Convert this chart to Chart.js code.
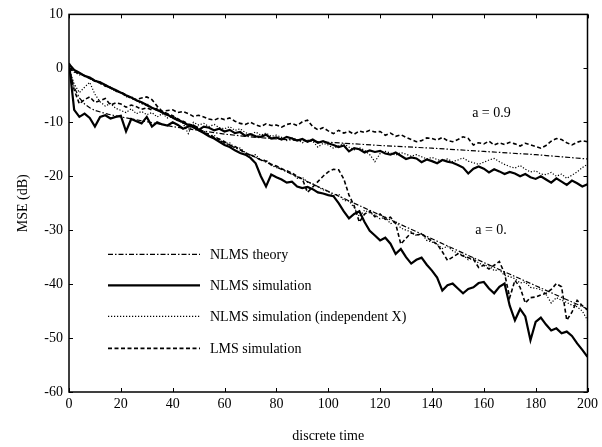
<!DOCTYPE html>
<html><head><meta charset="utf-8">
<script src="https://cdn.jsdelivr.net/npm/chart.js@4.4.1/dist/chart.umd.min.js"></script>
<style>html,body{margin:0;padding:0;background:#fff;}#wrap{width:602px;height:447px;}</style>
</head><body><div id="wrap"><canvas id="c" width="602" height="447"></canvas></div>
<script>
// time grid for simulated curves (every 2 samples)
const times = [];
for (let t = 0; t <= 200; t += 2) times.push(t);

// ---- a = 0.9 ----
const theoryTimes09 = [0, 2, 4, 6, 8, 10, 15, 20, 30, 40, 50, 60, 70, 80, 100, 120, 140, 160, 180, 200];
const theory09 = [0, -3.5, -5.5, -6.6, -7.3, -7.8, -8.5, -9.0, -9.9, -10.8, -11.5, -12.2, -12.7, -13.1, -13.7, -14.3, -14.8, -15.4, -16.0, -16.8];

const nlmsSim09 = [1.0, -7.7, -9.0, -8.4, -9.2, -10.8, -9.0, -8.7, -9.3, -9.0,
 -8.8, -11.7, -9.4, -9.8, -10.2, -9.0, -10.8, -10.0, -10.4, -10.6,
 -10.0, -10.5, -11.2, -10.8, -10.6, -11.4, -10.8, -11.0, -11.5, -11.2,
 -11.7, -11.4, -12.0, -11.8, -12.5, -12.2, -12.6, -12.7, -12.3, -13.0,
 -12.8, -13.2, -12.7, -13.0, -13.4, -13.1, -13.6, -13.2, -13.8, -13.5,
 -13.9, -14.2, -14.6, -14.3, -15.4, -14.8, -15.0, -15.6, -15.2, -15.5,
 -15.3, -15.8, -16.0, -15.6, -16.2, -16.8, -16.5, -16.7, -17.4, -16.9,
 -17.2, -17.6, -17.0, -17.3, -17.5, -17.9, -18.4, -19.5, -18.6, -18.2,
 -18.6, -19.3, -18.7, -19.1, -19.6, -19.2, -19.5, -20.0, -19.6, -20.2,
 -20.5, -20.0, -20.6, -21.2, -20.4, -21.0, -21.6, -20.8, -21.3, -21.9,
 -21.5];

const nlmsIndep09 = [0, -2.9, -4.5, -3.5, -2.6, -4.8, -6.2, -7.0, -6.5, -7.4,
 -7.8, -8.2, -7.5, -8.4, -8.0, -8.6, -8.2, -9.0, -8.4, -9.2,
 -8.8, -9.4, -10.2, -12.1, -10.0, -10.5, -10.2, -10.8, -10.4, -11.0,
 -11.2, -10.8, -11.5, -11.2, -11.9, -12.3, -11.8, -12.4, -12.0, -12.6,
 -12.4, -12.8, -13.4, -12.9, -13.2, -13.8, -13.3, -13.5, -14.6, -13.9,
 -14.2, -14.8, -14.4, -14.0, -14.6, -15.1, -14.7, -15.2, -16.0, -17.3,
 -15.8, -15.4, -15.7, -16.1, -15.6, -15.9, -16.3, -16.0, -16.4, -16.8,
 -16.5, -16.9, -17.2, -16.8, -17.3, -17.0, -16.6, -17.2, -17.5, -17.8,
 -17.4, -17.0, -16.7, -17.3, -17.8, -18.2, -18.5, -18.0, -18.7, -19.2,
 -19.0, -19.6, -19.7, -19.3, -20.0, -19.6, -20.4, -19.8, -19.2, -18.4,
 -17.8];

const lmsSim09 = [0, -4.0, -6.6, -5.8, -5.3, -6.3, -6.0, -5.6, -6.8, -6.4,
 -6.6, -7.2, -6.8, -7.1, -7.6, -7.3, -7.7, -7.4, -8.0, -7.8,
 -7.7, -8.2, -8.0, -8.4, -8.9, -8.7, -9.0, -9.4, -9.6, -9.2,
 -9.5, -9.2, -9.8, -10.2, -10.4, -10.0, -10.5, -10.8, -10.3, -10.6,
 -10.5, -10.9, -10.4, -10.2, -10.6, -9.9, -9.6, -10.8, -11.4, -11.0,
 -11.6, -12.1, -11.5, -12.0, -11.7, -12.2, -11.6, -11.9, -11.5, -11.8,
 -11.7, -12.4, -12.0, -12.6, -12.3, -12.8, -13.2, -13.6, -13.4, -12.9,
 -13.0, -13.3, -12.8, -13.4, -13.6, -13.2, -12.7, -13.0, -14.2, -13.8,
 -14.0, -13.5, -14.2, -13.8, -14.1, -13.7, -14.0, -14.4, -13.9, -14.2,
 -14.5, -14.8, -14.3, -13.5, -13.0, -13.2, -13.8, -14.2, -13.7, -13.4,
 -13.6];

// ---- a = 0 ----
const theoryTimes0 = [0, 20, 40, 60, 80, 100, 120, 140, 160, 180, 200];
const theory0 = [0, -4.6, -9.2, -13.8, -18.3, -22.8, -27.2, -31.6, -36.0, -40.3, -44.6];

const nlmsSim0 = [0.8, -0.3, -0.8, -1.4, -1.7, -2.3, -2.6, -3.1, -3.6, -4.0,
 -4.5, -5.0, -5.4, -5.9, -6.3, -6.8, -7.3, -7.7, -8.2, -8.6,
 -9.1, -9.6, -10.0, -10.5, -10.9, -11.5, -12.0, -12.6, -13.0, -13.6,
 -14.2, -14.6, -15.2, -15.7, -16.0, -16.6, -17.6, -20.0, -21.9, -19.7,
 -20.2, -20.6, -21.2, -21.0, -21.9, -22.2, -22.0, -22.4, -23.0, -23.2,
 -23.5, -23.7, -25.0, -26.5, -27.8, -27.0, -26.5, -28.5, -30.1, -31.0,
 -31.9, -31.4, -32.5, -34.4, -33.5, -35.0, -36.2, -35.5, -35.1, -36.4,
 -37.5, -38.8, -41.2, -40.2, -39.9, -40.8, -41.7, -40.9, -40.6, -39.8,
 -39.6, -40.8, -41.7, -40.5, -39.9, -44.0, -46.7, -44.6, -46.0, -50.4,
 -47.0, -46.2, -47.5, -48.6, -48.2, -49.1, -48.8, -49.6, -51.0, -52.2,
 -53.5];

const nlmsIndep0 = [0, -0.7, -1.2, -1.3, -2.0, -2.1, -2.9, -3.0, -3.7, -4.3,
 -4.4, -5.3, -5.2, -5.9, -6.6, -6.5, -7.4, -7.6, -8.3, -8.4,
 -9.3, -9.4, -10.0, -10.7, -10.6, -11.5, -11.6, -12.5, -12.4, -13.3,
 -13.9, -13.8, -14.8, -14.8, -15.6, -16.2, -16.0, -17.1, -17.0, -18.0,
 -18.4, -18.6, -19.2, -19.5, -20.4, -20.2, -21.1, -21.4, -22.0, -22.5,
 -22.8, -23.6, -23.3, -24.5, -24.6, -25.8, -27.5, -26.3, -26.8, -27.2,
 -27.9, -27.6, -28.8, -28.4, -29.6, -30.0, -30.3, -31.0, -30.6, -31.9,
 -32.2, -32.6, -33.4, -33.0, -33.8, -34.3, -34.6, -35.5, -35.2, -36.1,
 -36.5, -36.6, -37.5, -37.3, -38.4, -38.6, -39.0, -39.8, -39.6, -40.6,
 -40.8, -41.0, -41.9, -43.5, -42.5, -43.0, -43.4, -43.9, -44.2, -45.0,
 -46.7];

const lmsSim0 = [0, -0.6, -1.0, -1.3, -1.9, -2.4, -2.6, -3.3, -3.5, -4.2,
 -4.4, -4.9, -5.6, -5.8, -5.5, -5.3, -5.8, -7.0, -8.0, -8.4,
 -8.8, -9.4, -9.8, -10.3, -10.6, -11.0, -11.9, -12.2, -12.8, -13.1,
 -13.6, -14.2, -14.5, -15.0, -15.8, -16.0, -16.5, -17.0, -17.2, -17.8,
 -18.1, -18.6, -19.0, -19.4, -20.0, -20.5, -23.0, -22.0, -21.0, -20.0,
 -19.2, -18.7, -18.8, -20.5, -23.5, -25.5, -28.5, -27.0, -26.5, -27.5,
 -27.0, -28.0, -27.6, -28.8, -32.6, -31.5, -30.5, -30.9, -30.7, -31.4,
 -32.0, -32.6, -34.0, -35.6, -35.0, -34.4, -34.8, -35.1, -35.4, -36.9,
 -36.5, -37.2, -36.5, -35.8, -38.0, -42.5, -39.3, -40.6, -43.5, -42.5,
 -42.4, -42.0, -41.7, -41.0, -39.9, -40.5, -46.7, -45.2, -43.0, -44.0,
 -44.8];

const xTicks = [0, 20, 40, 60, 80, 100, 120, 140, 160, 180, 200];
const yTicks = [-60, -50, -40, -30, -20, -10, 0, 10];
const legendLabels = ['NLMS theory', 'NLMS simulation', 'NLMS simulation (independent X)', 'LMS simulation'];
const curveLabels = ['a = 0.9', 'a = 0.'];

const FONT = "'Liberation Serif', 'Times New Roman', serif";
const STYLES = [
  {borderWidth: 1.2, borderDash: [5, 2, 1.5, 2]},
  {borderWidth: 2.2, borderDash: []},
  {borderWidth: 1.2, borderDash: [1.2, 1.8]},
  {borderWidth: 1.6, borderDash: [4, 2.5]}
];

function pts(ts, vs) { return ts.map((t, i) => ({x: t, y: vs[i]})); }
function ds(label, ts, vs, k) {
  return {label, data: pts(ts, vs), borderColor: '#000', backgroundColor: '#000',
    borderWidth: STYLES[k].borderWidth, borderDash: STYLES[k].borderDash,
    pointRadius: 0, tension: 0, fill: false};
}

const datasets = [
  ds(legendLabels[0] + ' a=0.9', theoryTimes09, theory09, 0),
  ds(legendLabels[0] + ' a=0', theoryTimes0, theory0, 0),
  ds(legendLabels[2] + ' a=0.9', times, nlmsIndep09, 2),
  ds(legendLabels[2] + ' a=0', times, nlmsIndep0, 2),
  ds(legendLabels[3] + ' a=0.9', times, lmsSim09, 3),
  ds(legendLabels[3] + ' a=0', times, lmsSim0, 3),
  ds(legendLabels[1] + ' a=0.9', times, nlmsSim09, 1),
  ds(legendLabels[1] + ' a=0', times, nlmsSim0, 1)
];

const framePlugin = {
  id: 'frame',
  afterDatasetsDraw(chart) {
    const {ctx, chartArea: a, scales: {x, y}} = chart;
    ctx.save();
    ctx.strokeStyle = '#000';
    ctx.setLineDash([]);
    ctx.lineWidth = 1.5;
    ctx.strokeRect(a.left, a.top, a.right - a.left, a.bottom - a.top);
    ctx.lineWidth = 1;
    const L = 4;
    ctx.beginPath();
    xTicks.forEach(v => {
      const px = Math.round(x.getPixelForValue(v)) + 0.5;
      ctx.moveTo(px, a.bottom); ctx.lineTo(px, a.bottom - L);
      ctx.moveTo(px, a.top); ctx.lineTo(px, a.top + L);
    });
    yTicks.forEach(v => {
      const py = Math.round(y.getPixelForValue(v)) + 0.5;
      ctx.moveTo(a.left, py); ctx.lineTo(a.left + L, py);
      ctx.moveTo(a.right, py); ctx.lineTo(a.right - L, py);
    });
    ctx.stroke();

    // legend (inside plot)
    ctx.font = '14px ' + FONT;
    ctx.fillStyle = '#000';
    ctx.textBaseline = 'middle';
    ctx.textAlign = 'left';
    const lx0 = a.left + 39, lx1 = a.left + 131, tx = a.left + 141;
    const rowY = [a.top + 240, a.top + 271, a.top + 302, a.top + 334];
    legendLabels.forEach((lab, k) => {
      ctx.save();
      ctx.lineWidth = STYLES[k].borderWidth;
      ctx.setLineDash(STYLES[k].borderDash);
      ctx.beginPath();
      ctx.moveTo(lx0, rowY[k]); ctx.lineTo(lx1, rowY[k]);
      ctx.stroke();
      ctx.restore();
      ctx.fillText(lab, tx, rowY[k] + 1);
    });

    // curve annotations
    ctx.fillText(curveLabels[0], x.getPixelForValue(155.5), y.getPixelForValue(-8.4));
    ctx.fillText(curveLabels[1], x.getPixelForValue(156.7), y.getPixelForValue(-30.1));
    ctx.restore();
  }
};

new Chart(document.getElementById('c'), {
  type: 'line',
  data: {datasets},
  plugins: [framePlugin],
  options: {
    responsive: false,
    animation: false,
    devicePixelRatio: 1,
    layout: {padding: {left: 0, right: 11, top: 12, bottom: 0}},
    plugins: {legend: {display: false}, tooltip: {enabled: false}},
    elements: {point: {radius: 0}, line: {tension: 0}},
    scales: {
      x: {
        type: 'linear', min: 0, max: 200,
        afterBuildTicks(s) { s.ticks = xTicks.map(v => ({value: v})); },
        ticks: {color: '#000', font: {family: FONT, size: 14}, padding: 4, maxRotation: 0, autoSkip: false},
        grid: {display: false, drawTicks: false},
        border: {display: false},
        title: {display: true, text: 'discrete time', color: '#000', font: {family: FONT, size: 14}, padding: {top: 0, bottom: 2}},
        afterFit(s) { s.height = 55; }
      },
      y: {
        type: 'linear', min: -60, max: 10,
        afterBuildTicks(s) { s.ticks = yTicks.map(v => ({value: v})); },
        ticks: {color: '#000', font: {family: FONT, size: 14}, padding: 6, autoSkip: false},
        grid: {display: false, drawTicks: false},
        border: {display: false},
        title: {display: true, text: 'MSE (dB)', color: '#000', font: {family: FONT, size: 14}, padding: {top: 15, bottom: 0}},
        afterFit(s) { s.width = 69; }
      }
    }
  }
});
</script></body></html>
